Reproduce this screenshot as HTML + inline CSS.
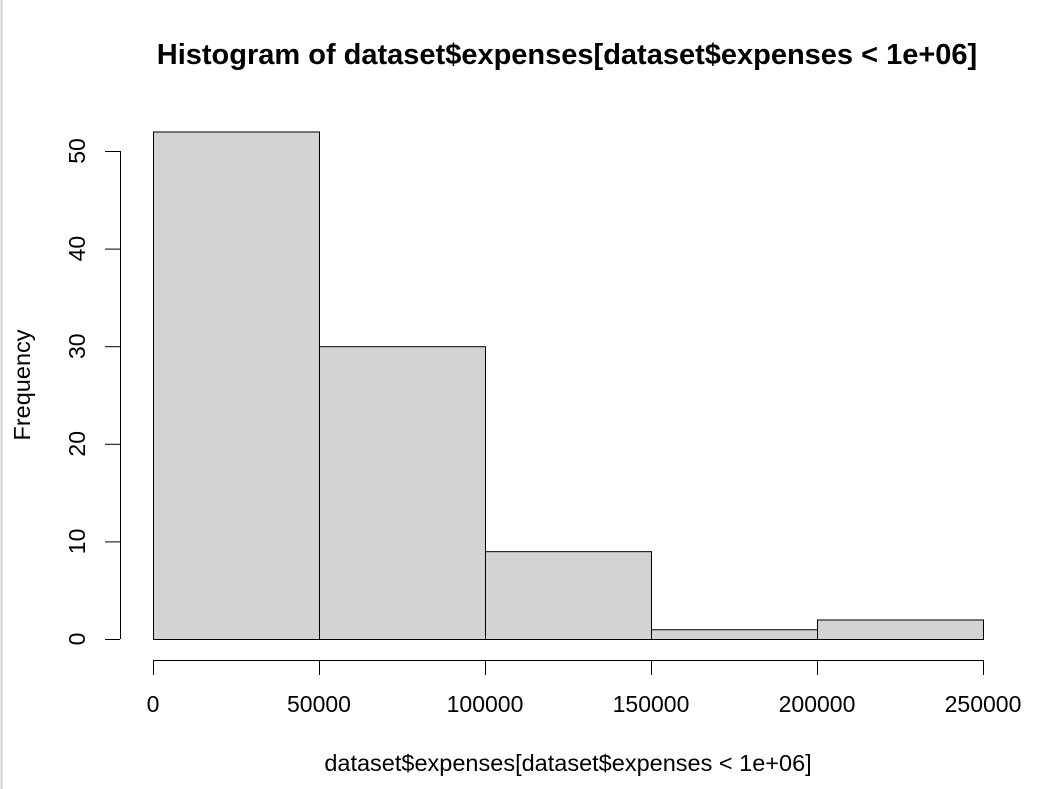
<!DOCTYPE html>
<html><head><meta charset="utf-8"><style>
html,body{margin:0;padding:0;background:#fff;}
svg{display:block;font-family:"Liberation Sans",Arial,sans-serif;}
</style></head><body>
<svg id="chart" width="1051" height="789">
<line x1="1.5" y1="0" x2="1.5" y2="789" stroke="#d0d0d0" stroke-width="2"/>
<text x="567" y="64" text-anchor="middle" font-size="29" font-weight="bold">Histogram of dataset$expenses[dataset$expenses &lt; 1e+06]</text>
<text x="568" y="771" text-anchor="middle" font-size="23.5">dataset$expenses[dataset$expenses &lt; 1e+06]</text>
<text transform="translate(30,385) rotate(-90)" text-anchor="middle" font-size="23.5">Frequency</text>
<g id="bars"></g><g id="xaxis"></g><g id="yaxis"></g>
</svg>
<script>
const binStarts=[0,50000,100000,150000,200000];
const binWidth=50000;
const counts=[52,30,9,1,2];
const xTicks=[0,50000,100000,150000,200000,250000];
const yTicks=[0,10,20,30,40,50];
const NS="http://www.w3.org/2000/svg";
function X(v){return 153+v*(983-153)/250000;}
function Y(v){return 639-v*(639-151)/50;}
function mk(t,a,p){const e=document.createElementNS(NS,t);for(const k in a)e.setAttribute(k,a[k]);p.appendChild(e);return e;}
const bars=document.getElementById('bars');
binStarts.forEach((s,i)=>{
 const r=mk('rect',{x:X(s)+0.5,y:Y(counts[i])+0.5,width:X(s+binWidth)-X(s),height:Y(0)-Y(counts[i]),fill:'#d3d3d3',stroke:'#000','stroke-width':1},bars);
 
 
});
const xa=document.getElementById('xaxis');
const xl=mk('line',{x1:X(xTicks[0]),y1:660.5,x2:X(xTicks[xTicks.length-1]),y2:660.5,stroke:'#000'},xa);


xTicks.forEach(t=>{
 const tk=mk('line',{x1:X(t)+0.5,y1:660,x2:X(t)+0.5,y2:675,stroke:'#000'},xa);
 
 
 const tx=mk('text',{x:X(t),y:712,'text-anchor':'middle','font-size':23},xa);
 tx.textContent=t;
 
 
});
const ya=document.getElementById('yaxis');
const yl=mk('line',{x1:120.5,y1:Y(yTicks[0]),x2:120.5,y2:Y(yTicks[yTicks.length-1]),stroke:'#000'},ya);


yTicks.forEach(t=>{
 const tk=mk('line',{x1:105,y1:Y(t)+0.5,x2:120,y2:Y(t)+0.5,stroke:'#000'},ya);
 
 
 const tx=mk('text',{transform:`translate(85,${Y(t)}) rotate(-90)`,'text-anchor':'middle','font-size':23},ya);
 tx.textContent=t;
 
 
});
</script>
</body></html>
